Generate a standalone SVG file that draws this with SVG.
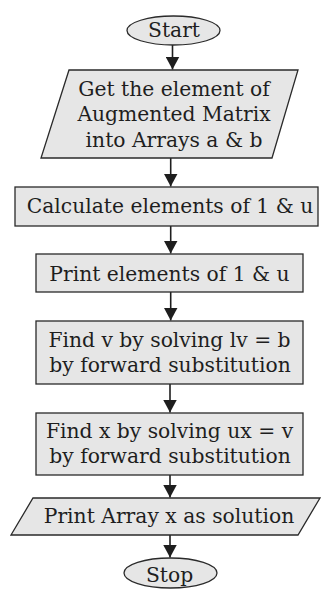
<svg xmlns="http://www.w3.org/2000/svg" width="321" height="589" viewBox="0 0 321 589">
<defs>
<style>
.shape{fill:#e6e6e6;stroke:#2a2a2a;stroke-width:1.3}
.t{font-family:"DejaVu Serif","Liberation Serif",serif;font-size:20.3px;fill:#1e1e1e;text-anchor:middle}
.c{stroke:#1e1e1e;stroke-width:1.6;fill:none}
</style>
<marker id="ah" markerUnits="userSpaceOnUse" markerWidth="14" markerHeight="14" refX="13" refY="7" orient="auto">
<path d="M0,0 L13,7 L0,14 Z" fill="#1e1e1e"/>
</marker>
</defs>
<rect width="321" height="589" fill="#ffffff"/>
<g id="connectors">
<line class="c" x1="172.5" y1="45" x2="172.5" y2="69.5" marker-end="url(#ah)"/>
<line class="c" x1="170.7" y1="158" x2="170.7" y2="186.5" marker-end="url(#ah)"/>
<line class="c" x1="170.7" y1="226" x2="170.7" y2="253.5" marker-end="url(#ah)"/>
<line class="c" x1="170.7" y1="292" x2="170.7" y2="320.5" marker-end="url(#ah)"/>
<line class="c" x1="170" y1="384" x2="170" y2="412.5" marker-end="url(#ah)"/>
<line class="c" x1="170" y1="475" x2="170" y2="497.5" marker-end="url(#ah)"/>
<line class="c" x1="170" y1="535" x2="170" y2="557.5" marker-end="url(#ah)"/>
</g>
<g id="start">
<ellipse class="shape" cx="173.5" cy="30.5" rx="46.5" ry="14.5"/>
<text class="t" x="174" y="37">Start</text>
</g>
<g id="input">
<polygon class="shape" points="69,70 298,70 272,158 41,158"/>
<text class="t" x="174" y="95.5">Get the element of</text>
<text class="t" x="174" y="121">Augmented Matrix</text>
<text class="t" x="174" y="146.5">into Arrays a &amp; b</text>
</g>
<g id="calc">
<rect class="shape" x="15" y="187" width="303" height="39"/>
<text class="t" x="170" y="213.3">Calculate elements of 1 &amp; u</text>
</g>
<g id="print-lu">
<rect class="shape" x="36" y="254" width="267" height="38"/>
<text class="t" x="169.5" y="280.7">Print elements of 1 &amp; u</text>
</g>
<g id="find-v">
<rect class="shape" x="36" y="321" width="267" height="63"/>
<text class="t" x="169.5" y="346.7">Find v by solving lv = b</text>
<text class="t" x="170" y="371.7">by forward substitution</text>
</g>
<g id="find-x">
<rect class="shape" x="36" y="413" width="267" height="62"/>
<text class="t" x="169.5" y="438.3">Find x by solving ux = v</text>
<text class="t" x="170" y="462.7">by forward substitution</text>
</g>
<g id="output">
<polygon class="shape" points="33,498 320,498 298,535 11,535"/>
<text class="t" x="169" y="522.5">Print Array x as solution</text>
</g>
<g id="stop">
<ellipse class="shape" cx="170.5" cy="573" rx="46.5" ry="15"/>
<text class="t" x="169.5" y="581.5">Stop</text>
</g>
</svg>
